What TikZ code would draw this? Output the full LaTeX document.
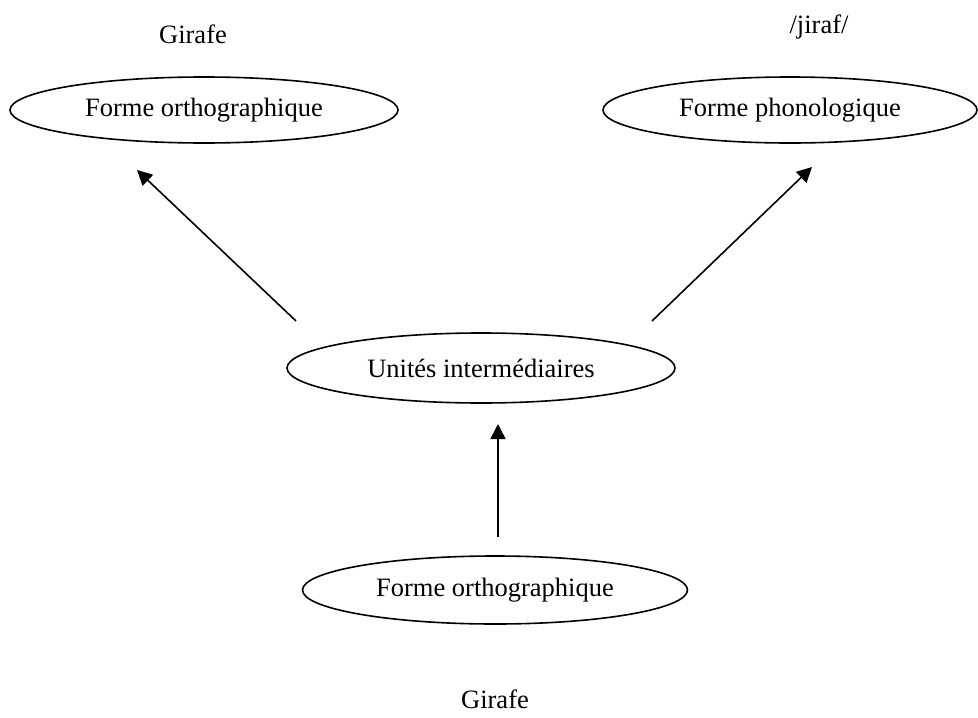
\documentclass[tikz,border=0pt]{standalone}
\usepackage{fontspec}
\setmainfont{Liberation Serif}
\usetikzlibrary{shapes.geometric,arrows.meta}
\tikzset{
  form/.style={draw, ellipse, line width=1.6pt, inner sep=0pt, font=\fontsize{26.5}{30}\selectfont},
  word/.style={font=\fontsize{26.5}{30}\selectfont, inner sep=0pt},
  link/.style={line width=1.6pt, -{Triangle[length=15pt,width=15pt]}}
}
\begin{document}
\begin{tikzpicture}[x=1pt,y=-1pt]
  \useasboundingbox (0,0) rectangle (978,718);
  % labels
  \node[word] (gtop) at (193,34) {Girafe};
  \node[word] (jiraf) at (819,27) {/jiraf/};
  \node[word] (gbot) at (495,699) {Girafe};
  % ellipses
  \node[form, minimum width=388pt, minimum height=66pt] (ortho) at (204,110) {Forme orthographique};
  \node[form, minimum width=374pt, minimum height=66pt] (phono) at (790,110) {Forme phonologique};
  \node[form, minimum width=388pt, minimum height=70pt] (inter) at (481,368) {Unités intermédiaires};
  \node[form, minimum width=385pt, minimum height=68pt] (input) at (495,590) {Forme orthographique};
  % arrow end points
  \coordinate (a1) at (296,321);
  \coordinate (b1) at (137,170);
  \coordinate (a2) at (652,321);
  \coordinate (b2) at (812,167);
  \coordinate (a3) at (498,537);
  \coordinate (b3) at (498,424);
  \draw[link] (a1) -- (b1);
  \draw[link] (a2) -- (b2);
  \draw[link] (a3) -- (b3);
\end{tikzpicture}
\end{document}
